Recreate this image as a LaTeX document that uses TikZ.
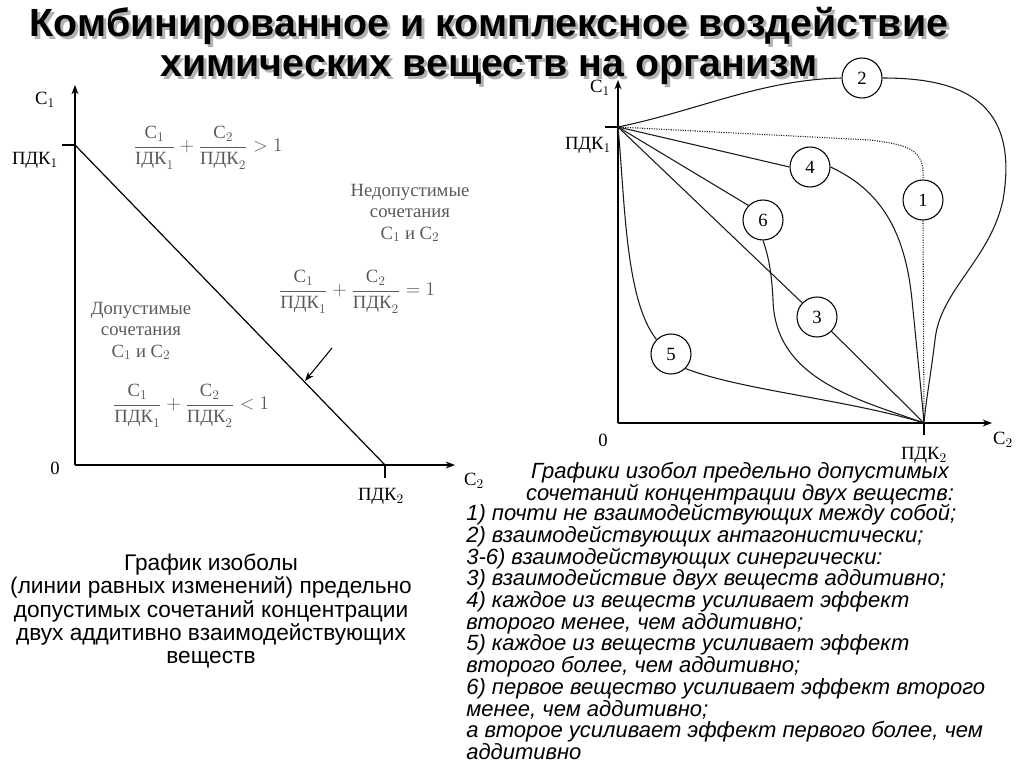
\documentclass[tikz,border=0pt]{standalone}
\usepackage{amsmath}
\usepackage{fontspec}
\setmainfont{Liberation Serif}
\newfontfamily\arial{Liberation Sans}
\usetikzlibrary{arrows.meta}
\newcommand{\cy}[1]{\mbox{#1}}
\begin{document}
\begin{tikzpicture}[x=0.75pt,y=-0.75pt,
  ax/.style={line width=0.9pt,-{Stealth[length=7pt]}},
  cv/.style={line width=0.8pt,gray!20!black},
  num/.style={circle,draw,line width=0.8pt,minimum size=30pt,inner sep=0pt,fill=white,font=\fontsize{14}{14}\selectfont},
  lbl/.style={font=\fontsize{14}{16}\selectfont},
  captxt/.style={font=\arial\itshape\fontsize{16.5}{16.3}\selectfont,align=left,inner sep=0pt},
  ttl/.style={font=\arial\bfseries\fontsize{29.5}{30}\selectfont}]
\useasboundingbox (0,0) rectangle (1024,767);
% title
\node[ttl,text=gray!60] at (492,29) {Комбинированное и комплексное воздействие};
\node[ttl,text=gray!60] at (492,73) {химических веществ на организм};
\node[ttl] (t1) at (489,26) {Комбинированное и комплексное воздействие};
\node[ttl] (t2) at (489,70) {химических веществ на организм};
% left graph
\coordinate (O) at (75,465);
\coordinate (Ytop) at (75,85);
\coordinate (Xr) at (455,465);
\draw[ax] (O) -- (Ytop);
\draw[ax] (O) -- (Xr);
\coordinate (P1) at (75,145);
\coordinate (P2) at (385,465);
\draw[line width=0.9pt] (62,145) -- (P1);
\draw[line width=0.9pt] (P2) -- (385,478);
\draw[line width=0.9pt] (P1) -- (P2);
\coordinate (a1) at (332,348);
\coordinate (a2) at (305,381);
\draw[line width=0.8pt,-{Stealth[length=7pt]}] (a1) -- (a2);
\node[lbl] (lc1) at (45,100) {C$_1$};
\node[lbl] (lp1) at (35,160) {ПДК$_1$};
\node[lbl] (l0) at (55,468) {0};
\node[lbl] (lc2) at (474,481) {C$_2$};
\node[lbl] (lp2) at (381,496) {ПДК$_2$};
\node[lbl,text=gray!70!black] (fr1) at (208,148) {$\dfrac{\cy{C}_1}{\cy{IДК}_1}+\dfrac{\cy{C}_2}{\cy{ПДК}_2}>1$};
\node[lbl,text=gray!70!black,align=center] (nd) at (410,213) {Недопустимые\\сочетания\\C$_1$ и C$_2$};
\node[lbl,text=gray!70!black] (fr2) at (357,292) {$\dfrac{\cy{C}_1}{\cy{ПДК}_1}+\dfrac{\cy{C}_2}{\cy{ПДК}_2}=1$};
\node[lbl,text=gray!70!black,align=center] (dd) at (141,331) {Допустимые\\сочетания\\C$_1$ и C$_2$};
\node[lbl,text=gray!70!black] (fr3) at (191,406) {$\dfrac{\cy{C}_1}{\cy{ПДК}_1}+\dfrac{\cy{C}_2}{\cy{ПДК}_2}<1$};
\node[font=\arial\fontsize{17}{17.3}\selectfont,align=center] (lcap) at (211,611) {График изоболы\\(линии равных изменений) предельно\\допустимых сочетаний концентрации\\двух аддитивно взаимодействующих\\веществ};
% right graph
\coordinate (R0) at (618,423);
\coordinate (RY) at (618,80);
\coordinate (RX) at (992,423);
\coordinate (Q1) at (618,127);
\coordinate (Q2) at (924,423);
\draw[ax] (R0) -- (RY);
\draw[ax] (R0) -- (RX);
\draw[line width=0.9pt] (605,127) -- (Q1);
\draw[line width=0.9pt] (Q2) -- (924,435);
\node[lbl] (rc1) at (600,88) {C$_1$};
\node[lbl] (rp1) at (588,145) {ПДК$_1$};
\node[lbl] (r0) at (603,440) {0};
\node[lbl] (rc2) at (1003,440) {C$_2$};
\node[lbl] (rp2) at (924,455) {ПДК$_2$};
\node[num] (n2) at (862,78) {2};
\node[num] (n4) at (810,167) {4};
\node[num] (n1) at (923,200) {1};
\node[num] (n6) at (763,220) {6};
\node[num] (n3) at (817,317) {3};
\node[num] (n5) at (671,354) {5};
\draw[cv] (Q1) -- (n3) -- (Q2);
\draw[cv] (Q1) -- (n4.west);
\draw[cv] (n4.east) .. controls (880,190) and (905,230) .. (912,300) .. controls (918,360) and (922,400) .. (Q2);
\draw[cv] (Q1) -- (n6.north west);
\draw[cv] (n6.south) .. controls (770,260) and (772,280) .. (773,300) .. controls (775,380) and (860,400) .. (Q2);
\draw[cv] (Q1) .. controls (625,200) and (625,300) .. (n5.north west);
\draw[cv] (n5.south east) .. controls (740,390) and (850,400) .. (Q2);
\draw[cv] (Q1) .. controls (700,110) and (760,80) .. (n2.west);
\draw[cv] (n2.east) .. controls (960,78) and (1020,100) .. (1003,200) .. controls (990,260) and (940,290) .. (935,340) .. controls (930,380) and (926,400) .. (Q2);
\draw[cv,densely dotted] (Q1) -- (870,140) .. controls (910,145) and (925,150) .. (n1.north);
\draw[cv,densely dotted] (n1.south) -- (Q2);
% right caption
\node[captxt,align=center,anchor=north] (rh) at (740,462) {Графики изобол предельно допустимых\\сочетаний концентрации двух веществ:};
\node[captxt,anchor=north west] (rt) at (466,504) {1) почти не взаимодействующих между собой;\\2) взаимодействующих антагонистически;\\3-6) взаимодействующих синергически:\\3) взаимодействие двух веществ аддитивно;\\4) каждое из веществ усиливает эффект\\второго менее, чем аддитивно;\\5) каждое из веществ усиливает эффект\\второго более, чем аддитивно;\\6) первое вещество усиливает эффект второго\\менее, чем аддитивно;\\а второе усиливает эффект первого более, чем\\аддитивно};
\end{tikzpicture}
\end{document}
